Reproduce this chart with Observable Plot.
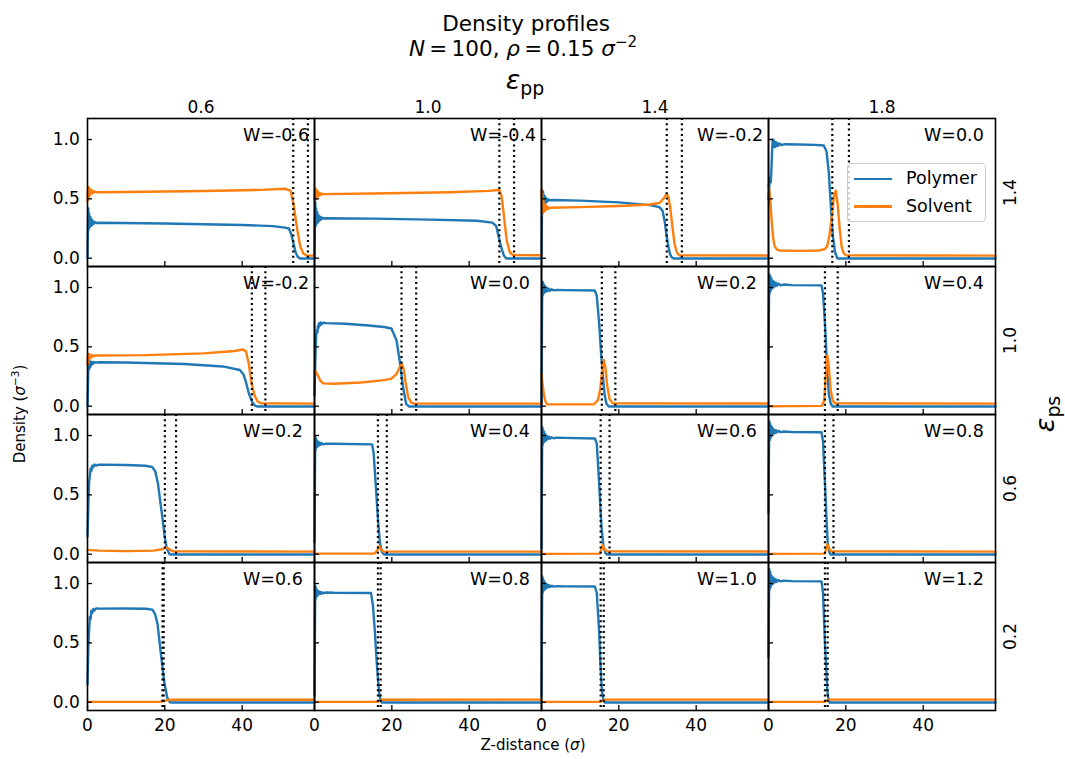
<!DOCTYPE html>
<html>
<head>
<meta charset="utf-8">
<script src="https://cdn.jsdelivr.net/npm/d3@7"></script>
<script src="https://cdn.jsdelivr.net/npm/@observablehq/plot@0.6"></script>
<style>
  body { margin: 0; background: #fff; font-family: "DejaVu Sans", sans-serif; }
  #wrap { position: relative; width: 1065px; height: 759px; }
  .t { position: absolute; white-space: nowrap; color: #000; line-height: 1; transform: translate(-50%, -50%); }
  .rot { transform: translate(-50%, -50%) rotate(-90deg); }
  .sup { font-size: 70%; position: relative; top: -0.55em; }
  .sub { font-size: 70%; position: relative; top: 0.3em; }
</style>
</head>
<body>
<div id="wrap"></div>
<script>
// ---------------- data ----------------
const epsPP = [0.6, 1.0, 1.4, 1.8];          // columns
const epsPS = [1.4, 1.0, 0.6, 0.2];          // rows (top to bottom)
const wValues = [-0.6, -0.4, -0.2, 0.0,
                 -0.2, 0.0, 0.2, 0.4,
                  0.2, 0.4, 0.6, 0.8,
                  0.6, 0.8, 1.0, 1.2];
const interfaces = [
  [53.2, 57.0], [47.8, 51.6], [32.4, 36.3], [16.5, 20.8],
  [42.5, 46.0], [22.5, 26.3], [15.6, 19.1], [14.6, 17.9],
  [20.0, 22.9], [16.4, 18.7], [15.3, 17.6], [14.6, 16.8],
  [19.4, 19.7], [16.4, 17.1], [15.3, 16.1], [14.6, 15.3]
];
const xTicks = [0, 20, 40];
const yTicks = [0, 0.5, 1.0];
const xDomain = [0, 58.7];
const yDomain = [-0.07, 1.177];
const seriesNames = ["Polymer", "Solvent"];
const seriesColors = ["#1f77b4", "#ff7f0e"];

const polymer = [
  [[0,0],[0.1,0.25],[0.2,0.42],[0.3,0.24],[0.42,0.38],[0.55,0.26],[0.7,0.35],[0.85,0.27],[1.0,0.33],[1.2,0.28],[1.4,0.315],[1.65,0.29],[1.9,0.305],[2.3,0.297],[3,0.299],[20,0.292],[40,0.28],[48,0.27],[51,0.258],[52.1,0.25],[52.7,0.2],[53.3,0.12],[53.8,0.05],[54.4,0.01],[55,-0.003],[58.7,-0.003]],
  [[0,0],[0.1,0.3],[0.2,0.47],[0.3,0.27],[0.42,0.42],[0.55,0.29],[0.7,0.39],[0.85,0.3],[1.0,0.365],[1.2,0.315],[1.4,0.35],[1.65,0.325],[1.9,0.342],[2.3,0.335],[3,0.337],[15,0.333],[30,0.325],[42,0.315],[46,0.3],[47,0.27],[47.5,0.2],[48.2,0.1],[49,0.02],[49.6,-0.003],[58.7,-0.003]],
  [[0,0],[0.1,0.35],[0.2,0.57],[0.3,0.4],[0.42,0.56],[0.55,0.43],[0.7,0.53],[0.85,0.45],[1.0,0.515],[1.2,0.47],[1.4,0.5],[1.65,0.48],[1.9,0.495],[2.3,0.488],[3,0.49],[10,0.485],[20,0.47],[28,0.447],[30.5,0.43],[31.3,0.4],[31.8,0.32],[32.3,0.2],[32.7,0.12],[33.2,0.04],[33.6,0.01],[34.2,-0.003],[58.7,-0.003]],
  [[0,0.5],[0.2,0.6],[0.4,0.68],[0.6,0.64],[0.8,0.78],[0.95,0.92],[1.1,1.0],[1.25,0.94],[1.4,0.99],[1.55,0.935],[1.7,0.98],[1.85,0.94],[2.0,0.975],[2.2,0.945],[2.4,0.97],[2.7,0.95],[3,0.965],[3.4,0.952],[4,0.96],[8,0.958],[12,0.955],[14.3,0.95],[15.0,0.9],[15.6,0.72],[16.1,0.45],[16.6,0.2],[17.2,0.05],[17.8,0.0],[18.4,-0.003],[58.7,-0.003]],
  [[0,0],[0.1,0.15],[0.2,0.3],[0.3,0.36],[0.42,0.31],[0.55,0.38],[0.7,0.33],[0.85,0.375],[1.0,0.345],[1.2,0.372],[1.45,0.358],[1.7,0.372],[2.0,0.367],[3,0.37],[10,0.368],[25,0.355],[35,0.335],[39.4,0.305],[40.3,0.27],[41.0,0.2],[41.8,0.1],[42.5,0.04],[43.3,0.005],[44,-0.003],[58.7,-0.003]],
  [[0,0.09],[0.15,0.3],[0.3,0.5],[0.45,0.6],[0.6,0.64],[0.75,0.62],[0.9,0.68],[1.05,0.66],[1.2,0.7],[1.4,0.68],[1.6,0.705],[1.8,0.69],[2.2,0.703],[3,0.7],[8,0.695],[14,0.68],[18,0.667],[19.9,0.655],[21.2,0.556],[22,0.39],[22.9,0.16],[23.7,0.02],[24.5,-0.003],[58.7,-0.003]],
  [[0,0],[0.1,0.6],[0.2,1.05],[0.3,0.93],[0.42,1.04],[0.55,0.95],[0.7,1.02],[0.85,0.96],[1.0,1.01],[1.2,0.965],[1.4,0.997],[1.65,0.97],[1.9,0.99],[2.2,0.973],[2.6,0.985],[3.1,0.976],[4,0.98],[6,0.978],[13.8,0.975],[14.3,0.93],[14.9,0.7],[15.4,0.45],[15.8,0.28],[16.3,0.1],[16.8,0.02],[17.4,-0.003],[58.7,-0.003]],
  [[0,0.4],[0.1,0.8],[0.2,1.11],[0.3,0.95],[0.42,1.1],[0.55,0.97],[0.7,1.08],[0.85,0.99],[1.0,1.06],[1.2,1.0],[1.4,1.05],[1.65,1.01],[1.9,1.04],[2.2,1.015],[2.6,1.033],[3.1,1.018],[4,1.025],[6,1.02],[13.7,1.018],[14.1,0.95],[14.6,0.7],[15.2,0.3],[15.6,0.1],[16.1,0.02],[16.6,-0.003],[58.7,-0.003]],
  [[0,0.15],[0.2,0.4],[0.4,0.6],[0.6,0.66],[0.8,0.72],[1.0,0.7],[1.2,0.745],[1.5,0.732],[1.8,0.755],[2.2,0.746],[3,0.755],[10,0.752],[15,0.745],[16.7,0.735],[17.5,0.7],[18.2,0.6],[18.8,0.45],[19.4,0.3],[20,0.14],[20.5,0.05],[21.2,0.0],[22,-0.003],[58.7,-0.003]],
  [[0,0.1],[0.1,0.6],[0.2,0.99],[0.3,0.88],[0.42,0.97],[0.55,0.9],[0.7,0.955],[0.85,0.91],[1.0,0.945],[1.2,0.918],[1.4,0.94],[1.65,0.922],[1.9,0.935],[2.3,0.926],[3,0.932],[5,0.93],[14.9,0.925],[15.3,0.85],[15.6,0.7],[16.0,0.5],[16.4,0.3],[16.9,0.1],[17.4,0.02],[18,-0.003],[58.7,-0.003]],
  [[0,0.05],[0.1,0.6],[0.2,1.07],[0.3,0.92],[0.42,1.05],[0.55,0.94],[0.7,1.03],[0.85,0.95],[1.0,1.01],[1.2,0.96],[1.4,0.997],[1.65,0.97],[1.9,0.99],[2.2,0.973],[2.6,0.985],[3.1,0.977],[4,0.982],[6,0.98],[13.8,0.975],[14.3,0.93],[14.9,0.6],[15.3,0.35],[15.6,0.2],[16.0,0.07],[16.5,0.01],[17,-0.003],[58.7,-0.003]],
  [[0,0.35],[0.1,0.8],[0.2,1.12],[0.3,0.96],[0.42,1.1],[0.55,0.98],[0.7,1.08],[0.85,1.0],[1.0,1.065],[1.2,1.01],[1.4,1.05],[1.65,1.02],[1.9,1.045],[2.2,1.025],[2.6,1.04],[3.1,1.028],[4,1.034],[6,1.03],[13.7,1.028],[14.1,0.95],[14.6,0.6],[15.0,0.3],[15.3,0.1],[15.7,0.02],[16.1,-0.003],[58.7,-0.003]],
  [[0,0.15],[0.2,0.45],[0.4,0.6],[0.6,0.72],[0.8,0.7],[1.0,0.77],[1.2,0.75],[1.5,0.785],[1.8,0.772],[2.2,0.79],[3,0.788],[10,0.79],[15,0.787],[16.8,0.78],[17.5,0.74],[18.1,0.66],[18.9,0.43],[19.8,0.18],[20.6,0.04],[21.3,0.0],[22,-0.003],[58.7,-0.003]],
  [[0,0.05],[0.1,0.55],[0.2,0.98],[0.3,0.87],[0.42,0.96],[0.55,0.89],[0.7,0.945],[0.85,0.9],[1.0,0.935],[1.2,0.91],[1.4,0.93],[1.65,0.912],[1.9,0.926],[2.3,0.918],[3,0.924],[5,0.922],[14.6,0.92],[15.1,0.82],[15.6,0.6],[16.0,0.38],[16.4,0.2],[16.8,0.06],[17.1,0.01],[17.5,-0.003],[58.7,-0.003]],
  [[0,0.05],[0.1,0.6],[0.2,1.06],[0.3,0.92],[0.42,1.04],[0.55,0.94],[0.7,1.02],[0.85,0.95],[1.0,1.005],[1.2,0.96],[1.4,0.993],[1.65,0.968],[1.9,0.986],[2.2,0.97],[2.6,0.982],[3.1,0.974],[4,0.978],[6,0.976],[13.8,0.975],[14.3,0.92],[14.9,0.6],[15.2,0.35],[15.6,0.1],[16.0,0.02],[16.4,-0.003],[58.7,-0.003]],
  [[0,0.38],[0.1,0.8],[0.2,1.12],[0.3,0.95],[0.42,1.1],[0.55,0.97],[0.7,1.07],[0.85,0.99],[1.0,1.055],[1.2,1.0],[1.4,1.045],[1.65,1.01],[1.9,1.035],[2.2,1.015],[2.6,1.03],[3.1,1.018],[4,1.024],[6,1.02],[13.7,1.018],[14.1,0.92],[14.6,0.5],[15.0,0.25],[15.2,0.1],[15.5,0.03],[15.8,-0.003],[58.7,-0.003]]
];

const solvent = [
  [[0,0.48],[0.1,0.58],[0.2,0.5],[0.32,0.6],[0.45,0.52],[0.6,0.585],[0.75,0.535],[0.9,0.575],[1.1,0.545],[1.3,0.568],[1.55,0.552],[1.8,0.562],[2.2,0.556],[10,0.558],[30,0.566],[45,0.576],[51,0.585],[52.5,0.57],[53.3,0.45],[54.2,0.25],[55,0.1],[55.8,0.04],[56.6,0.022],[58.7,0.022]],
  [[0,0.5],[0.1,0.58],[0.2,0.49],[0.32,0.585],[0.45,0.5],[0.6,0.57],[0.75,0.515],[0.9,0.56],[1.1,0.525],[1.3,0.55],[1.55,0.533],[1.8,0.545],[2.2,0.54],[15,0.545],[35,0.555],[45,0.567],[47.8,0.575],[48.4,0.52],[49,0.35],[49.7,0.15],[50.5,0.05],[51.3,0.027],[58.7,0.025]],
  [[0,0.57],[0.1,0.45],[0.2,0.54],[0.32,0.38],[0.45,0.5],[0.6,0.39],[0.75,0.46],[0.9,0.4],[1.1,0.445],[1.3,0.41],[1.55,0.435],[1.8,0.418],[2.2,0.425],[10,0.43],[20,0.44],[28,0.452],[30.5,0.465],[31.5,0.5],[32.3,0.54],[32.8,0.52],[33.3,0.42],[33.8,0.28],[34.4,0.12],[35,0.05],[35.6,0.025],[58.7,0.022]],
  [[0,0.62],[0.3,0.55],[0.6,0.42],[0.9,0.28],[1.2,0.17],[1.6,0.1],[2.2,0.072],[3,0.065],[8,0.062],[13,0.065],[14.5,0.075],[15.2,0.1],[15.8,0.2],[16.4,0.36],[16.9,0.52],[17.4,0.57],[17.9,0.45],[18.4,0.25],[18.9,0.1],[19.4,0.045],[20,0.025],[58.7,0.022]],
  [[0,0.35],[0.1,0.43],[0.2,0.37],[0.32,0.44],[0.45,0.39],[0.6,0.435],[0.75,0.405],[0.9,0.43],[1.1,0.415],[1.35,0.43],[1.6,0.42],[2,0.427],[15,0.43],[30,0.445],[38,0.465],[40.2,0.478],[41,0.46],[41.7,0.36],[42.4,0.2],[43.2,0.09],[44,0.04],[44.8,0.025],[58.7,0.022]],
  [[0,0.3],[0.3,0.295],[0.6,0.275],[0.95,0.255],[1.5,0.215],[2.2,0.192],[5,0.189],[12,0.2],[18,0.22],[19.9,0.232],[21.2,0.27],[21.9,0.32],[22.6,0.355],[23.1,0.31],[23.5,0.21],[24.2,0.08],[25,0.03],[25.8,0.022],[58.7,0.022]],
  [[0,0.27],[0.3,0.18],[0.6,0.1],[1.0,0.04],[1.5,0.015],[13.5,0.015],[14.6,0.05],[15.2,0.15],[15.7,0.3],[16.1,0.39],[16.5,0.33],[17.0,0.17],[17.6,0.06],[18.4,0.025],[58.7,0.022]],
  [[0,0.0],[13.8,0.003],[14.4,0.05],[14.8,0.25],[15.2,0.43],[15.6,0.33],[16.1,0.13],[16.6,0.05],[17.1,0.025],[58.7,0.022]],
  [[0,0.036],[3,0.03],[10,0.026],[17,0.03],[19,0.04],[20.5,0.056],[21.3,0.04],[22,0.025],[58.7,0.022]],
  [[0,0.005],[15.5,0.006],[16.2,0.03],[16.7,0.07],[17.2,0.04],[17.8,0.022],[58.7,0.022]],
  [[0,0.003],[15,0.005],[15.5,0.04],[15.8,0.078],[16.2,0.05],[16.8,0.025],[58.7,0.022]],
  [[0,0.003],[14.5,0.005],[14.9,0.04],[15.2,0.084],[15.6,0.05],[16.2,0.025],[58.7,0.022]],
  [[0,0.003],[18.5,0.003],[19.5,0.008],[20.5,0.016],[21.5,0.02],[58.7,0.02]],
  [[0,0.003],[16.2,0.003],[16.8,0.01],[17.3,0.02],[58.7,0.022]],
  [[0,0.003],[15.3,0.003],[15.8,0.012],[16.3,0.022],[58.7,0.022]],
  [[0,0.003],[14.6,0.003],[15.1,0.012],[15.6,0.022],[58.7,0.022]]
];

// ---------------- tables built from the arrays ----------------
const polyRows = [], solvRows = [], ruleRows = [], wRows = [];
epsPS.forEach((ps, r) => epsPP.forEach((pp, c) => {
  const i = r * 4 + c;
  polymer[i].forEach(([d, v]) => polyRows.push({pp, ps, d, v}));
  solvent[i].forEach(([d, v]) => solvRows.push({pp, ps, d, v}));
  interfaces[i].forEach(d => ruleRows.push({pp, ps, d}));
  wRows.push({pp, ps, label: `W=${wValues[i].toFixed(1)}`});
}));
const colRows = epsPP.map(pp => ({pp, ps: epsPS[0], label: pp.toFixed(1)}));
const rowRows = epsPS.map(ps => ({pp: epsPP[epsPP.length - 1], ps, label: ps.toFixed(1)}));

const chart = Plot.plot({
  width: 1065,
  height: 759,
  marginLeft: 85,
  marginRight: 69,
  marginTop: 118,
  marginBottom: 49,
  style: {fontFamily: "DejaVu Sans, sans-serif", fontSize: "17px", background: "white", color: "black"},
  x: {domain: xDomain, label: null},
  y: {domain: yDomain, label: null},
  fx: {domain: epsPP, padding: 0, axis: null},
  fy: {domain: epsPS, padding: 0, axis: null},
  marks: [
    Plot.line(polyRows, {x: "d", y: "v", fx: "pp", fy: "ps", stroke: seriesColors[0], strokeWidth: 2.4}),
    Plot.line(solvRows, {x: "d", y: "v", fx: "pp", fy: "ps", stroke: seriesColors[1], strokeWidth: 2.4}),
    Plot.ruleX(ruleRows, {x: "d", fx: "pp", fy: "ps", stroke: "black", strokeWidth: 2.2, strokeDasharray: "2,3.3"}),
    Plot.frame({stroke: "black", strokeWidth: 1.6}),
    Plot.axisX({ticks: xTicks, tickSize: -5, strokeWidth: 1.3, fill: "none", facetAnchor: null, label: null}),
    Plot.axisY({ticks: yTicks, tickSize: -5, strokeWidth: 1.3, fill: "none", facetAnchor: null, label: null}),
    Plot.axisX({ticks: xTicks, tickSize: 0, tickPadding: 8.3, label: null}),
    Plot.axisY({ticks: yTicks, tickSize: 0, tickPadding: 7.7, tickFormat: d3.format(".1f"), label: null}),
    Plot.text(wRows, {fx: "pp", fy: "ps", text: "label", frameAnchor: "top-left", textAnchor: "start", lineAnchor: "top", dx: 155.5, dy: 9.6, fontSize: 17.5}),
    Plot.text(colRows, {fx: "pp", fy: "ps", text: "label", frameAnchor: "top", lineAnchor: "bottom", dy: -5.5}),
    Plot.text(rowRows, {fx: "pp", fy: "ps", text: "label", frameAnchor: "right", rotate: -90, lineAnchor: "middle", textAnchor: "middle", dx: 14.7})
  ]
});

const wrap = document.getElementById("wrap");
wrap.appendChild(chart);

function addText(html, x, y, size, cls) {
  const el = document.createElement("div");
  el.className = "t" + (cls ? " " + cls : "");
  el.style.left = x + "px";
  el.style.top = y + "px";
  el.style.fontSize = size + "px";
  el.innerHTML = html;
  wrap.appendChild(el);
}
addText("Density profiles", 526, 24, 21.5);
addText('<i>N</i>&#8201;=&#8201;100, <i>ρ</i>&#8201;=&#8201;0.15 <i>σ</i><span class="sup">−2</span>', 523, 48.5, 21.5);
addText('<i>ε</i><span class="sub">pp</span>', 525, 79, 27);
addText('<i>ε</i><span class="sub">ps</span>', 1044, 414, 27, "rot");
addText('Density (<i>σ</i><span class="sup">−3</span>)', 20, 414, 15, "rot");
addText('Z-distance (<i>σ</i>)', 533, 745, 15);

// legend
const lg = document.createElement("div");
Object.assign(lg.style, {position: "absolute", left: "847px", top: "163px", width: "139px", height: "59px",
  boxSizing: "border-box", border: "1px solid #cccccc", borderRadius: "4px", background: "rgba(255,255,255,0.8)"});
seriesNames.forEach((name, k) => {
  const cy = 15 + k * 27.5;
  const ln = document.createElement("div");
  Object.assign(ln.style, {position: "absolute", left: "5.5px", top: (cy - 1.2) + "px", width: "38.5px", height: "2.4px", background: seriesColors[k]});
  lg.appendChild(ln);
  const tx = document.createElement("div");
  Object.assign(tx.style, {position: "absolute", left: "58px", top: cy + "px", transform: "translateY(-50%)", fontSize: "17.5px", lineHeight: "1", whiteSpace: "nowrap"});
  tx.textContent = name;
  lg.appendChild(tx);
});
wrap.appendChild(lg);
</script>
</body>
</html>
